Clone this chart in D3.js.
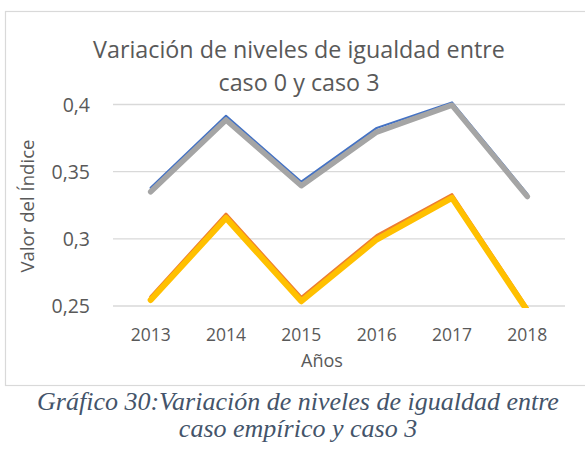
<!DOCTYPE html>
<html><head><meta charset="utf-8">
<script src="https://cdn.jsdelivr.net/npm/d3@7"></script>
<style>body{margin:0;background:#fff}svg{display:block}</style>
</head><body>
<svg id="c" width="585" height="456"></svg>
<script>
const years = ["2013","2014","2015","2016","2017","2018"];
const serieAzul = [0.338, 0.3915, 0.3425, 0.3825, 0.4015, 0.3335];
const serieNaranja = [0.257, 0.3185, 0.2565, 0.3025, 0.333, 0.2485];
const serieGris = [0.335, 0.3885, 0.3395, 0.3795, 0.3995, 0.3315];
const serieAmarilla = [0.2545, 0.3155, 0.2535, 0.2995, 0.3305, 0.2465];
const yTicks = [0.25, 0.3, 0.35, 0.4];
const yTickLabels = ["0,25", "0,3", "0,35", "0,4"];
const title = ["Variación de niveles de igualdad entre", "caso 0 y caso 3"];
const caption = ["Gráfico 30:Variación de niveles de igualdad entre", "caso empírico y caso 3"];

const svg = d3.select("#c");
const font = "'Open Sans', sans-serif";
function fit(sel, target, base) {
  const w = sel.node().getComputedTextLength();
  sel.attr("font-size", base * target / w);
}

// chart frame
svg.append("rect").attr("x",5.5).attr("y",11.5).attr("width",600).attr("height",374)
  .attr("fill","none").attr("stroke","#d9d9d9").attr("stroke-width",1.2);

const L = 113, R = 565, T = 104.5, B = 306;
const x = d3.scaleBand().domain(years).range([L, R]);
const y = d3.scaleLinear().domain([0.25, 0.4]).range([B, T]);

// gridlines
svg.append("g").selectAll("line").data(yTicks).join("line")
  .attr("x1", L).attr("x2", R).attr("y1", d => y(d)).attr("y2", d => y(d))
  .attr("stroke", "#d9d9d9").attr("stroke-width", 1.3);

// y tick labels
svg.append("g").selectAll("text").data(yTicks).join("text")
  .attr("x", 90).attr("y", d => y(d)).attr("dy", "0.36em").attr("text-anchor","end")
  .attr("font-family", font).attr("font-size", 19.5).attr("fill", "#595959")
  .text((d,i) => yTickLabels[i]);

// x tick labels
svg.append("g").selectAll("text").data(years).join("text")
  .attr("x", d => x(d) + x.bandwidth()/2).attr("y", 341).attr("text-anchor","middle")
  .attr("font-family", font).attr("font-size", 17.5).attr("fill", "#595959")
  .text(d => d);

// axis titles
const xt = svg.append("text").attr("x", 322).attr("y", 367).attr("text-anchor","middle")
  .attr("font-family", font).attr("font-size", 16).attr("fill", "#595959").text("Años");
fit(xt, 42, 16);
const yt = svg.append("text").attr("transform","translate(34,206) rotate(-90)").attr("text-anchor","middle")
  .attr("font-family", font).attr("font-size", 16).attr("fill", "#595959").text("Valor del Índice");
fit(yt, 133, 16);

// chart title
const tt = svg.append("g").selectAll("text").data(title).join("text")
  .attr("x", 299).attr("y", (d,i) => 58 + i*33).attr("text-anchor","middle")
  .attr("font-family", font).attr("font-size", 20).attr("fill", "#595959").text(d => d);
{
  const w = tt.nodes()[0].getComputedTextLength();
  tt.attr("font-size", 20 * 412 / w);
}

// lines
svg.append("clipPath").attr("id","pc").append("rect")
  .attr("x", L).attr("y", T - 10).attr("width", R - L).attr("height", B - T + 12);
const line = d3.line().x((d,i) => x(years[i]) + x.bandwidth()/2).y(d => y(d));
const series = [
  {v: serieAzul, c: "#4472C4", w: 2.2},
  {v: serieNaranja, c: "#ED7D31", w: 2.8},
  {v: serieGris, c: "#A5A5A5", w: 5.5},
  {v: serieAmarilla, c: "#FFC000", w: 6}
];
const lg = svg.append("g").attr("clip-path","url(#pc)");
series.forEach(s => {
  lg.append("path").attr("d", line(s.v)).attr("fill","none")
    .attr("stroke", s.c).attr("stroke-width", s.w).attr("stroke-linejoin","round").attr("stroke-linecap","round");
});

// caption
const cap = svg.append("g").selectAll("text").data(caption).join("text")
  .attr("x", 298).attr("y", (d,i) => 410 + i*27).attr("text-anchor","middle")
  .attr("font-family", "'Liberation Serif', 'DejaVu Serif', serif").attr("font-style","italic")
  .attr("font-size", 23).attr("fill", "#44546A").text(d => d);
{
  const w0 = cap.nodes()[0].getComputedTextLength();
  cap.attr("font-size", Math.min(23 * 534 / w0, 26));
}
</script>
</body></html>
